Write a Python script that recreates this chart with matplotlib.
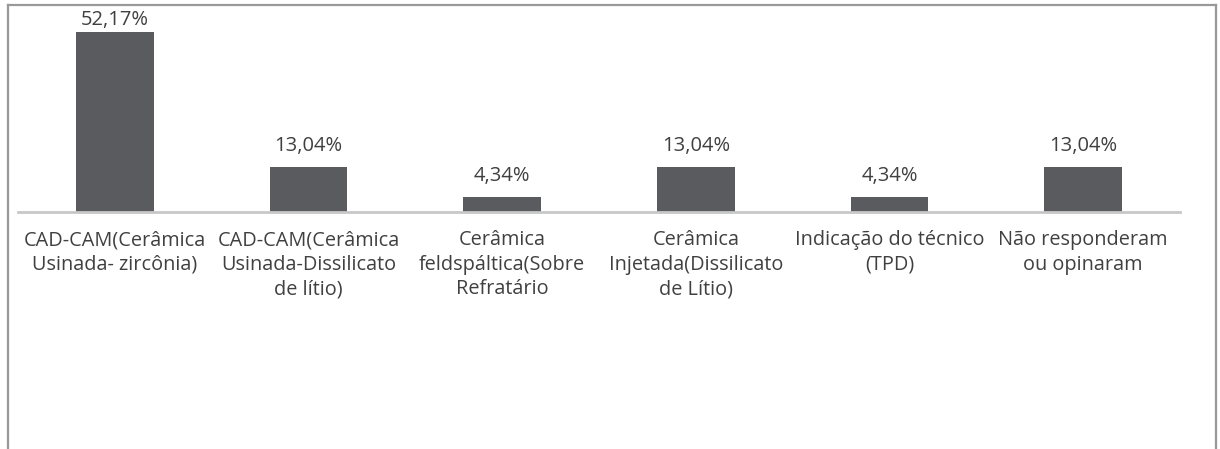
import matplotlib
matplotlib.use("Agg")
import matplotlib.pyplot as plt
from matplotlib.lines import Line2D

categories = [
    "CAD-CAM(Cerâmica\nUsinada- zircônia)",
    "CAD-CAM(Cerâmica\nUsinada-Dissilicato\nde lítio)",
    "Cerâmica\nfeldspáltica(Sobre\nRefratário",
    "Cerâmica\nInjetada(Dissilicato\nde Lítio)",
    "Indicação do técnico\n(TPD)",
    "Não responderam\nou opinaram",
]
values = [52.17, 13.04, 4.34, 13.04, 4.34, 13.04]
value_labels = ["52,17%", "13,04%", "4,34%", "13,04%", "4,34%", "13,04%"]

W, H = 1220, 449
fig = plt.figure(figsize=(W / 100, H / 100), dpi=100)
plt.rcParams['font.family'] = ['Open Sans', 'DejaVu Sans']

# plot area in pixels: x 18..1180, baseline at y=212, top at y=17
ax = fig.add_axes([18 / W, (H - 212) / H, (1180 - 18) / W, (212 - 17) / H])
x = range(len(values))
ax.bar(x, values, width=0.4, color='#5a5b5f', zorder=2)
ax.set_xlim(-0.5, len(values) - 0.5)
upp = 52.17 / 180  # data units per pixel
ymax = 52.17 + 15 * upp
ax.set_ylim(0, ymax)

for xi, v, lab in zip(x, values, value_labels):
    y = min(v + 11 * upp, 52.17 + 2 * upp)
    ax.text(xi, y, lab, ha='center', va='bottom', fontsize=14.5, color='#404040')

ax.set_xticks(list(x))
ax.set_xticklabels(categories, fontsize=14.3, color='#404040', linespacing=1.3)
ax.tick_params(axis='x', length=0, pad=13)
ax.set_yticks([])
for s in ['top', 'right', 'left']:
    ax.spines[s].set_visible(False)
ax.spines['bottom'].set_color('#c8c8c8')
ax.spines['bottom'].set_linewidth(2)

# outer frame (left, top, right edges)
fc = '#999999'
fig.add_artist(Line2D([8 / W, 8 / W], [0, 1 - 5 / H], color=fc, lw=1.6, transform=fig.transFigure))
fig.add_artist(Line2D([8 / W, 1216 / W], [1 - 5 / H, 1 - 5 / H], color=fc, lw=1.6, transform=fig.transFigure))
fig.add_artist(Line2D([1216 / W, 1216 / W], [0, 1 - 5 / H], color=fc, lw=1.6, transform=fig.transFigure))

fig.savefig("out.png", dpi=100)
